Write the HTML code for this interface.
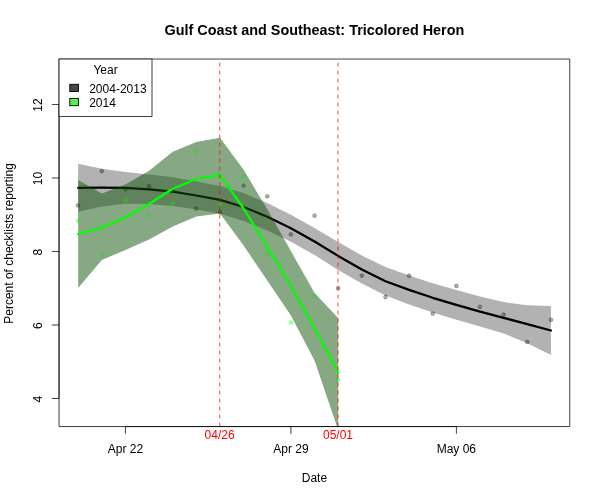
<!DOCTYPE html>
<html><head><meta charset="utf-8"><style>
html,body{margin:0;padding:0;background:#fff;width:600px;height:500px;overflow:hidden}
svg{display:block;font-family:"Liberation Sans",sans-serif;will-change:transform}
</style></head><body>
<svg width="600" height="500" viewBox="0 0 600 500">
<rect width="600" height="500" fill="#fff"/>
<defs><clipPath id="c"><rect x="59.04" y="59.04" width="510.72" height="367.52"/></clipPath></defs>
<g clip-path="url(#c)">
<polygon points="78.14,163.80 101.78,168.80 125.42,172.00 149.06,174.50 172.70,177.30 196.34,181.40 219.98,185.90 243.62,193.10 267.26,203.10 290.90,214.70 314.54,227.90 338.18,241.90 361.82,255.60 385.46,266.90 409.10,275.40 432.74,283.20 456.38,290.10 480.02,296.60 503.66,302.10 527.30,305.20 550.94,306.10 550.94,354.90 527.30,343.20 503.66,333.50 480.02,326.60 456.38,319.70 432.74,312.40 409.10,304.40 385.46,295.50 361.82,283.40 338.18,269.90 314.54,255.10 290.90,241.70 267.26,230.50 243.62,220.90 219.98,213.70 196.34,209.60 172.70,205.90 149.06,204.10 125.42,203.80 101.78,206.40 78.14,211.80" fill="rgba(0,0,0,0.30)"/>
<circle cx="78.14" cy="205.4" r="1.9" fill="rgba(0,0,0,0.3)" stroke="rgba(0,0,0,0.36)" stroke-width="0.75"/>
<circle cx="101.78" cy="171.1" r="1.9" fill="rgba(0,0,0,0.3)" stroke="rgba(0,0,0,0.36)" stroke-width="0.75"/>
<circle cx="125.42" cy="189.2" r="1.9" fill="rgba(0,0,0,0.3)" stroke="rgba(0,0,0,0.36)" stroke-width="0.75"/>
<circle cx="149.06" cy="186.2" r="1.9" fill="rgba(0,0,0,0.3)" stroke="rgba(0,0,0,0.36)" stroke-width="0.75"/>
<circle cx="172.70" cy="189.5" r="1.9" fill="rgba(0,0,0,0.3)" stroke="rgba(0,0,0,0.36)" stroke-width="0.75"/>
<circle cx="196.34" cy="208.6" r="1.9" fill="rgba(0,0,0,0.3)" stroke="rgba(0,0,0,0.36)" stroke-width="0.75"/>
<circle cx="219.98" cy="212.2" r="1.9" fill="rgba(0,0,0,0.3)" stroke="rgba(0,0,0,0.36)" stroke-width="0.75"/>
<circle cx="243.62" cy="185.6" r="1.9" fill="rgba(0,0,0,0.3)" stroke="rgba(0,0,0,0.36)" stroke-width="0.75"/>
<circle cx="267.26" cy="196.3" r="1.9" fill="rgba(0,0,0,0.3)" stroke="rgba(0,0,0,0.36)" stroke-width="0.75"/>
<circle cx="290.90" cy="234.4" r="1.9" fill="rgba(0,0,0,0.3)" stroke="rgba(0,0,0,0.36)" stroke-width="0.75"/>
<circle cx="314.54" cy="215.7" r="1.9" fill="rgba(0,0,0,0.3)" stroke="rgba(0,0,0,0.36)" stroke-width="0.75"/>
<circle cx="338.18" cy="288.2" r="1.9" fill="rgba(0,0,0,0.3)" stroke="rgba(0,0,0,0.36)" stroke-width="0.75"/>
<circle cx="361.82" cy="275.6" r="1.9" fill="rgba(0,0,0,0.3)" stroke="rgba(0,0,0,0.36)" stroke-width="0.75"/>
<circle cx="385.46" cy="297.0" r="1.9" fill="rgba(0,0,0,0.3)" stroke="rgba(0,0,0,0.36)" stroke-width="0.75"/>
<circle cx="409.10" cy="275.7" r="1.9" fill="rgba(0,0,0,0.3)" stroke="rgba(0,0,0,0.36)" stroke-width="0.75"/>
<circle cx="432.74" cy="313.6" r="1.9" fill="rgba(0,0,0,0.3)" stroke="rgba(0,0,0,0.36)" stroke-width="0.75"/>
<circle cx="456.38" cy="286.0" r="1.9" fill="rgba(0,0,0,0.3)" stroke="rgba(0,0,0,0.36)" stroke-width="0.75"/>
<circle cx="480.02" cy="306.8" r="1.9" fill="rgba(0,0,0,0.3)" stroke="rgba(0,0,0,0.36)" stroke-width="0.75"/>
<circle cx="503.66" cy="314.6" r="1.9" fill="rgba(0,0,0,0.3)" stroke="rgba(0,0,0,0.36)" stroke-width="0.75"/>
<circle cx="527.30" cy="341.9" r="1.9" fill="rgba(0,0,0,0.3)" stroke="rgba(0,0,0,0.36)" stroke-width="0.75"/>
<circle cx="550.94" cy="319.8" r="1.9" fill="rgba(0,0,0,0.3)" stroke="rgba(0,0,0,0.36)" stroke-width="0.75"/>
<polyline points="78.14,187.80 101.78,187.60 125.42,187.90 149.06,189.30 172.70,191.60 196.34,195.50 219.98,199.80 243.62,207.00 267.26,216.80 290.90,228.20 314.54,241.50 338.18,255.90 361.82,269.50 385.46,281.20 409.10,289.90 432.74,297.80 456.38,304.90 480.02,311.60 503.66,317.80 527.30,324.20 550.94,330.50" fill="none" stroke="#000" stroke-width="2.25" stroke-linejoin="round" stroke-linecap="round"/>
<polygon points="78.14,179.90 101.78,193.40 125.42,184.60 149.06,170.80 172.70,151.70 196.34,141.90 219.98,137.70 243.62,169.80 267.26,209.30 290.90,251.00 314.54,293.00 338.18,318.00 338.18,430.00 314.54,360.50 290.90,315.50 267.26,280.60 243.62,245.50 219.98,213.50 196.34,216.50 172.70,226.50 149.06,239.50 125.42,250.00 101.78,260.00 78.14,288.00" fill="rgba(13,83,7,0.5)"/>
<circle cx="78.14" cy="220.9" r="1.9" fill="rgba(0,255,0,0.32)" stroke="rgba(0,215,0,0.35)" stroke-width="0.75"/>
<circle cx="101.78" cy="255.8" r="1.9" fill="rgba(0,255,0,0.32)" stroke="rgba(0,215,0,0.35)" stroke-width="0.75"/>
<circle cx="125.42" cy="200.2" r="1.9" fill="rgba(0,255,0,0.32)" stroke="rgba(0,215,0,0.35)" stroke-width="0.75"/>
<circle cx="149.06" cy="215.0" r="1.9" fill="rgba(0,255,0,0.32)" stroke="rgba(0,215,0,0.35)" stroke-width="0.75"/>
<circle cx="172.70" cy="203.4" r="1.9" fill="rgba(0,255,0,0.32)" stroke="rgba(0,215,0,0.35)" stroke-width="0.75"/>
<circle cx="196.34" cy="151.3" r="1.9" fill="rgba(0,255,0,0.32)" stroke="rgba(0,215,0,0.35)" stroke-width="0.75"/>
<circle cx="219.98" cy="204.3" r="1.9" fill="rgba(0,255,0,0.32)" stroke="rgba(0,215,0,0.35)" stroke-width="0.75"/>
<circle cx="243.62" cy="176.6" r="1.9" fill="rgba(0,255,0,0.32)" stroke="rgba(0,215,0,0.35)" stroke-width="0.75"/>
<circle cx="267.26" cy="253.4" r="1.9" fill="rgba(0,255,0,0.32)" stroke="rgba(0,215,0,0.35)" stroke-width="0.75"/>
<circle cx="290.90" cy="322.4" r="1.9" fill="rgba(0,255,0,0.32)" stroke="rgba(0,215,0,0.35)" stroke-width="0.75"/>
<circle cx="314.54" cy="295.9" r="1.9" fill="rgba(0,255,0,0.32)" stroke="rgba(0,215,0,0.35)" stroke-width="0.75"/>
<circle cx="338.18" cy="380.1" r="1.9" fill="rgba(0,255,0,0.32)" stroke="rgba(0,215,0,0.35)" stroke-width="0.75"/>
<polyline points="78.14,234.00 101.78,227.50 125.42,217.50 149.06,204.00 172.70,188.80 196.34,179.00 219.98,174.80 243.62,208.50 267.26,247.00 290.90,286.00 314.54,328.00 338.18,373.00" fill="none" stroke="#00ff00" stroke-width="2.25" stroke-linejoin="round" stroke-linecap="round"/>
<line x1="219.8" y1="426.56" x2="219.8" y2="59" stroke="#ff0000" stroke-width="0.75" stroke-dasharray="4,4"/>
<line x1="338.0" y1="426.56" x2="338.0" y2="59" stroke="#ff0000" stroke-width="0.75" stroke-dasharray="4,4"/>
</g>
<path d="M59.04,59.04 H569.76 V426.56 H59.04 Z" fill="none" stroke="#000" stroke-width="0.75"/>
<path d="M59.04,398.48 V104.48" stroke="#000" stroke-width="0.75"/>
<line x1="51.84" y1="398.48" x2="59.04" y2="398.48" stroke="#000" stroke-width="0.75"/>
<text transform="translate(41.9,399.08) rotate(-90)" text-anchor="middle" font-size="12" y="0">4</text>
<line x1="51.84" y1="324.98" x2="59.04" y2="324.98" stroke="#000" stroke-width="0.75"/>
<text transform="translate(41.9,325.58) rotate(-90)" text-anchor="middle" font-size="12" y="0">6</text>
<line x1="51.84" y1="251.48000000000002" x2="59.04" y2="251.48000000000002" stroke="#000" stroke-width="0.75"/>
<text transform="translate(41.9,252.08) rotate(-90)" text-anchor="middle" font-size="12" y="0">8</text>
<line x1="51.84" y1="177.98000000000002" x2="59.04" y2="177.98000000000002" stroke="#000" stroke-width="0.75"/>
<text transform="translate(41.9,178.58) rotate(-90)" text-anchor="middle" font-size="12" y="0">10</text>
<line x1="51.84" y1="104.48000000000002" x2="59.04" y2="104.48000000000002" stroke="#000" stroke-width="0.75"/>
<text transform="translate(41.9,105.08) rotate(-90)" text-anchor="middle" font-size="12" y="0">12</text>
<path d="M125.42,426.56 H456.38" stroke="#000" stroke-width="0.75"/>
<line x1="125.42" y1="426.56" x2="125.42" y2="433.76" stroke="#000" stroke-width="0.75"/>
<text x="125.42" y="452.9" text-anchor="middle" font-size="12">Apr 22</text>
<line x1="290.9" y1="426.56" x2="290.9" y2="433.76" stroke="#000" stroke-width="0.75"/>
<text x="290.9" y="452.9" text-anchor="middle" font-size="12">Apr 29</text>
<line x1="456.38" y1="426.56" x2="456.38" y2="433.76" stroke="#000" stroke-width="0.75"/>
<text x="456.38" y="452.9" text-anchor="middle" font-size="12">May 06</text>
<text x="219.6" y="439.3" text-anchor="middle" font-size="12" fill="#ff0000">04/26</text>
<text x="338.0" y="439.3" text-anchor="middle" font-size="12" fill="#ff0000">05/01</text>
<text x="314.4" y="481.7" text-anchor="middle" font-size="12">Date</text>
<text transform="translate(12.7,243.4) rotate(-90)" text-anchor="middle" font-size="12">Percent of checklists reporting</text>
<text x="314.4" y="34.7" text-anchor="middle" font-size="14.4" font-weight="bold">Gulf Coast and Southeast: Tricolored Heron</text>
<rect x="59.04" y="59.04" width="92.96" height="57.46" fill="#fff" stroke="#000" stroke-width="0.75"/>
<text x="105.5" y="73.7" text-anchor="middle" font-size="12">Year</text>
<rect x="69.8" y="84.3" width="8.6" height="7.2" fill="#474747" stroke="#000" stroke-width="0.9"/>
<rect x="69.8" y="98.4" width="8.6" height="7.3" fill="#55f048" stroke="#000" stroke-width="0.9"/>
<text x="89.2" y="92.5" font-size="12">2004-2013</text>
<text x="89.2" y="106.7" font-size="12">2014</text>
</svg>
</body></html>
